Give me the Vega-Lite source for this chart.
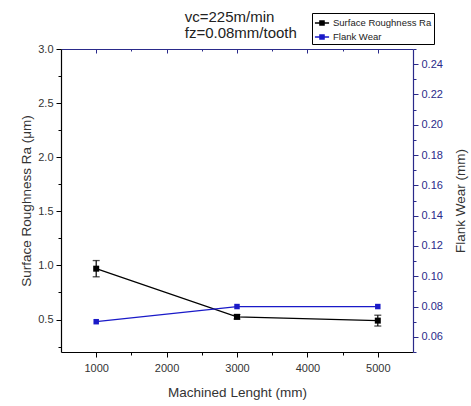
{
  "$schema": "https://vega.github.io/schema/vega-lite/v6.json",
  "autosize": {"type": "none"},
  "padding": {"left": 61, "top": 49, "right": 58, "bottom": 54},
  "width": 352,
  "height": 303,
  "title": {"text": ["vc=225m/min", "fz=0.08mm/tooth"], "anchor": "start", "dx": 165, "dy": 36, "fontSize": 15, "fontWeight": "normal", "lineHeight": 16, "color": "#222", "offset": 8, "font": "Liberation Sans"},
  "data": {"values": [
    {"len": 1000, "ra": 0.97, "lo": 0.895, "hi": 1.045, "fw": 0.07},
    {"len": 3000, "ra": 0.525, "lo": 0.505, "hi": 0.545, "fw": 0.08},
    {"len": 5000, "ra": 0.49, "lo": 0.44, "hi": 0.54, "fw": 0.08}
  ]},
  "layer": [
    {
      "mark": {"type": "rule", "color": "black", "strokeWidth": 1.2},
      "encoding": {
        "x": {"field": "len", "type": "quantitative", "scale": {"domain": [500, 5500], "nice": false, "zero": false},
              "axis": {"orient": "bottom", "values": [1000, 2000, 3000, 4000, 5000], "format": "d", "title": "Machined Lenght (mm)", "tickSize": 5, "labelPadding": 5, "titlePadding": 12, "domainColor": "black", "tickColor": "black"}},
        "y": {"field": "lo", "type": "quantitative", "scale": {"domain": [0.2, 3.0], "nice": false, "zero": false},
              "axis": {"orient": "left", "values": [0.5, 1.0, 1.5, 2.0, 2.5, 3.0], "format": ".1f", "title": "Surface Roughness Ra (μm)", "tickSize": 5, "labelPadding": 3, "titlePadding": 4, "domainColor": "black", "tickColor": "black"}},
        "y2": {"field": "hi"}
      }
    },
    {
      "mark": {"type": "tick", "orient": "horizontal", "color": "black", "size": 7, "thickness": 1.3},
      "encoding": {
        "x": {"field": "len", "type": "quantitative", "axis": null},
        "y": {"field": "hi", "type": "quantitative", "scale": {"domain": [0.2, 3.0], "nice": false, "zero": false}, "axis": null}
      }
    },
    {
      "mark": {"type": "tick", "orient": "horizontal", "color": "black", "size": 7, "thickness": 1.3},
      "encoding": {
        "x": {"field": "len", "type": "quantitative", "axis": null},
        "y": {"field": "lo", "type": "quantitative", "scale": {"domain": [0.2, 3.0], "nice": false, "zero": false}, "axis": null}
      }
    },
    {
      "mark": {"type": "line", "strokeWidth": 1.2},
      "encoding": {
        "x": {"field": "len", "type": "quantitative", "axis": {"orient": "bottom", "values": [1500, 2500, 3500, 4500], "labels": false, "domain": false, "tickSize": 3, "title": null, "tickColor": "black"}},
        "y": {"field": "ra", "type": "quantitative", "scale": {"domain": [0.2, 3.0], "nice": false, "zero": false},
              "axis": {"orient": "left", "values": [0.25, 0.75, 1.25, 1.75, 2.25, 2.75], "labels": false, "domain": false, "tickSize": 3, "title": null, "tickColor": "black"}},
        "color": {"datum": "Surface Roughness Ra", "type": "nominal",
                  "scale": {"domain": ["Surface Roughness Ra", "Flank Wear"], "range": ["#000000", "#1a1ac8"]},
                  "legend": {"orient": "none", "legendX": 251, "legendY": -36, "title": null, "strokeColor": "black", "fillColor": "white", "padding": 2, "labelFontSize": 9.5, "labelFont": "Liberation Sans", "labelColor": "#222", "labelOffset": 3,
                             "symbolType": "M-1,0H1M-0.3,-0.3H0.3V0.3H-0.3Z", "symbolSize": 200, "symbolStrokeWidth": 1.3, "rowPadding": 1,
                             "encode": {"symbols": {"update": {"stroke": {"scale": "color", "field": "value"}, "fill": {"scale": "color", "field": "value"}}}}}}
      }
    },
    {
      "mark": {"type": "point", "shape": "square", "filled": true, "size": 36, "opacity": 1},
      "encoding": {
        "x": {"field": "len", "type": "quantitative", "axis": {"orient": "top", "values": [1000, 2000, 3000, 4000, 5000], "labels": false, "tickSize": -4, "title": null, "domainColor": "#2a2a8a", "tickColor": "#2a2a8a"}},
        "y": {"field": "ra", "type": "quantitative", "scale": {"domain": [0.2, 3.0], "nice": false, "zero": false}, "axis": null},
        "color": {"datum": "Surface Roughness Ra", "type": "nominal"}
      }
    },
    {
      "mark": {"type": "line", "strokeWidth": 1.3},
      "encoding": {
        "x": {"field": "len", "type": "quantitative", "axis": {"orient": "top", "values": [1500, 2500, 3500, 4500], "labels": false, "domain": false, "tickSize": -2, "title": null, "tickColor": "#2a2a8a"}},
        "y": {"field": "fw", "type": "quantitative", "scale": {"domain": [0.05, 0.25], "nice": false, "zero": false},
              "axis": {"orient": "right", "values": [0.06, 0.08, 0.10, 0.12, 0.14, 0.16, 0.18, 0.20, 0.22, 0.24], "format": ".2f", "title": "Flank Wear (mm)", "titleAngle": 270, "titleBaseline": "top", "tickSize": 5, "labelPadding": 3, "titlePadding": 11, "domainColor": "#2a2a8a", "tickColor": "#2a2a8a", "labelColor": "#2a2a8a"}},
        "color": {"datum": "Flank Wear", "type": "nominal"}
      }
    },
    {
      "mark": {"type": "point", "shape": "square", "filled": true, "size": 30, "opacity": 1},
      "encoding": {
        "x": {"field": "len", "type": "quantitative", "axis": null},
        "y": {"field": "fw", "type": "quantitative", "scale": {"domain": [0.05, 0.25], "nice": false, "zero": false},
              "axis": {"orient": "right", "values": [0.05, 0.07, 0.09, 0.11, 0.13, 0.15, 0.17, 0.19, 0.21, 0.23, 0.25], "labels": false, "domain": false, "tickSize": 3, "title": null, "tickColor": "#2a2a8a"}},
        "color": {"datum": "Flank Wear", "type": "nominal"}
      }
    }
  ],
  "resolve": {"scale": {"y": "independent"}, "axis": {"x": "independent", "y": "independent"}},
  "config": {
    "view": {"stroke": null},
    "font": "Liberation Sans",
    "axis": {"grid": false, "labelFont": "Liberation Sans", "labelFontSize": 11, "labelColor": "#333", "titleFont": "Liberation Sans", "titleFontSize": 13.5, "titleFontWeight": "normal", "titleColor": "#333", "domainWidth": 1.2, "tickWidth": 1}
  }
}
